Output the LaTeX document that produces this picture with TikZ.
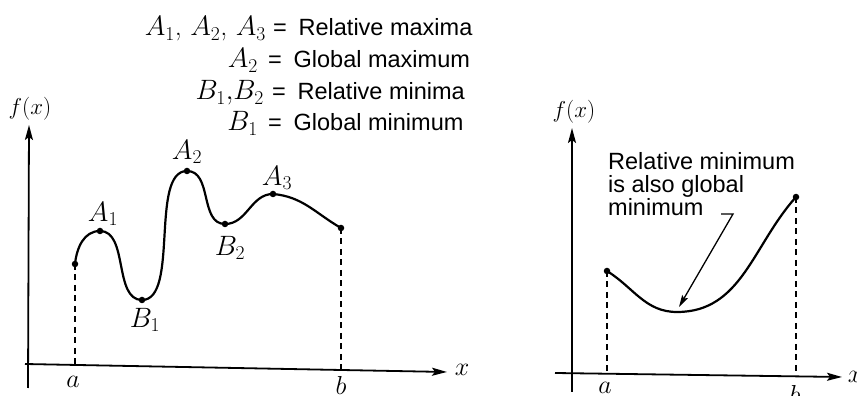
\RequirePackage{fix-cm}
\documentclass[tikz,border=0pt]{standalone}
\usepackage{fontspec}
\newfontfamily\lab{Liberation Sans}
\usetikzlibrary{arrows.meta}
\begin{document}
\begin{tikzpicture}[x=1pt,y=1pt,
  ax/.style={line width=1.8pt,-{Stealth[length=15pt,width=8pt,inset=3pt]}},
  crv/.style={line width=2.2pt},
  dsh/.style={line width=1.6pt,dash pattern=on 6pt off 4.5pt},
  dotp/.style={circle,fill,inner sep=0pt,minimum size=6.5pt},
  ml/.style={font=\fontsize{26}{28}\selectfont,inner sep=0pt},
  lm/.style={font=\fontsize{28}{30}\selectfont,inner sep=0pt},
  fl/.style={font=\fontsize{23}{26}\selectfont,inner sep=0pt},
  tx/.style={font=\lab\fontsize{23.5}{23}\selectfont,inner sep=0pt},
  ptr/.style={line width=1.3pt,-{Stealth[length=12pt,width=6.5pt,inset=2pt]}},
]
\useasboundingbox (0,0) rectangle (857,396);

% ---------- legend ----------
\node[tx,anchor=base west] (e1) at (273,360) {=\enspace Relative maxima};
\node[lm,anchor=base east] (m1) at (266,360) {$A_1$, $A_2$, $A_3$};
\node[tx,anchor=base west] (e2) at (268,328) {=\enspace Global maximum};
\node[lm,anchor=base east] (m2) at (258,328) {$A_2$};
\node[tx,anchor=base west] (e3) at (272,296) {=\enspace Relative minima};
\node[lm,anchor=base east] (m3) at (264,296) {$B_1{,}B_2$};
\node[tx,anchor=base west] (e4) at (268,265) {=\enspace Global minimum};
\node[lm,anchor=base east] (m4) at (258,265) {$B_1$};

% ---------- left graph ----------
\coordinate (Ly0) at (28,8);
\coordinate (Ly1) at (29,271);
\coordinate (Lx0) at (25,32);
\coordinate (Lx1) at (447,24);
\draw[ax] (Ly0) -- (Ly1);
\draw[ax] (Lx0) -- (Lx1);
\node[fl] (Lfx) at (30,287) {$f(x)$};
\node[ml] (Lxl) at (462,26) {$x$};

\node[dotp] (pa) at (75,132) {};
\node[dotp] (pA1) at (100,165) {};
\node[dotp] (pB1) at (142,96) {};
\node[dotp] (pA2) at (187,225) {};
\node[dotp] (pB2) at (225,172) {};
\node[dotp] (pA3) at (273,202) {};
\node[dotp] (pb) at (341,168) {};

\draw[crv] (pa.center) to[out=84,in=180] (pA1.center)
  to[out=0,in=180,looseness=0.9] (pB1.center)
  to[out=0,in=180,looseness=0.7] (pA2.center)
  to[out=0,in=180] (pB2.center)
  to[out=0,in=180] (pA3.center)
  to[out=-5,in=150] (pb.center);

\coordinate (pa0) at (75,32);
\coordinate (pb0) at (341,26);
\draw[dsh] (pa.center) -- (pa0);
\draw[dsh] (pb.center) -- (pb0);

\node[lm] (lA1) at (103,182) {$A_1$};
\node[lm] (lB1) at (145,76) {$B_1$};
\node[lm] (lA2) at (187,244) {$A_2$};
\node[lm] (lB2) at (230,148) {$B_2$};
\node[lm] (lA3) at (277,218) {$A_3$};
\node[ml] (la) at (73,14) {$a$};
\node[ml] (lb) at (341,11) {$b$};

% ---------- right graph ----------
\coordinate (Ry0) at (572,4);
\coordinate (Ry1) at (572,268);
\coordinate (Rx0) at (555,23);
\coordinate (Rx1) at (842,19);
\draw[ax] (Ry0) -- (Ry1);
\draw[ax] (Rx0) -- (Rx1);
\node[fl] (Rfx) at (574,284) {$f(x)$};
\node[ml] (Rxl) at (855,19) {$x$};

\node[dotp] (qa) at (607,125) {};
\coordinate (qm) at (677,84);
\node[dotp] (qb) at (796,199) {};
\draw[crv] (qa.center) to[out=-32,in=180] (qm)
  to[out=0,in=228] (qb.center);

\coordinate (qa0) at (607,23);
\coordinate (qb0) at (796,21);
\draw[dsh] (qa.center) -- (qa0);
\draw[dsh] (qb.center) -- (qb0);

\node[ml] (ra) at (605,8) {$a$};
\node[ml] (rb) at (795,2) {$b$};

\node[tx,anchor=base west,align=left] (note) at (608,180)
  {Relative minimum\\is also global\\minimum};
\coordinate (h1) at (721,182);
\coordinate (h2) at (733,182);
\coordinate (h3) at (679,89);
\draw[ptr] (h1) -- (h2) -- (h3);
\end{tikzpicture}
\end{document}
